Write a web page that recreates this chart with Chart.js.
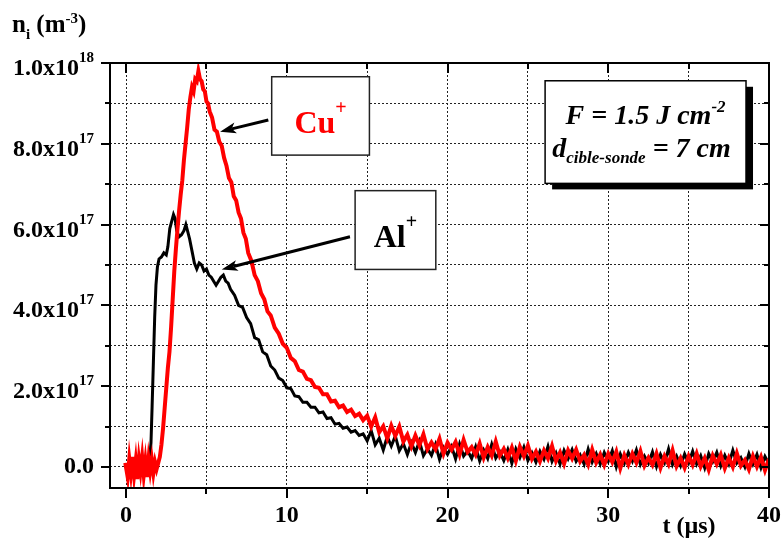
<!DOCTYPE html>
<html>
<head>
<meta charset="utf-8">
<script src="https://cdn.jsdelivr.net/npm/chart.js@4.4.1/dist/chart.umd.min.js"></script>
<style>
    html, body { margin: 0; padding: 0; background: #fff; }
    #wrap { width: 781px; height: 542px; }
</style>
</head>
<body>
<div id="wrap"><canvas id="chart" width="781" height="542"></canvas></div>
<script>
// Ion density n_i (units of 1e17 m^-3) vs time t (µs)
const alTime = [-0.05, 0.25, 0.5, 0.75, 1.0, 1.25, 1.45, 1.55, 1.62, 1.7, 1.78, 1.86, 1.95,
    2.05, 2.2, 2.35, 2.5, 2.6, 2.72, 2.85, 2.95, 3.05, 3.15, 3.3, 3.45, 3.6, 3.72, 3.82, 3.95,
    4.1, 4.25, 4.4, 4.55, 4.7, 4.85, 5.0, 5.15, 5.3, 5.45, 5.6, 5.75, 5.9, 6.05, 6.2, 6.35, 6.5, 6.75,
    7.0, 7.25, 7.5, 7.75, 8.0, 8.25, 8.5, 8.75, 9.0, 9.25, 9.5, 9.75, 10.0, 10.25, 10.5, 10.75,
    11.0, 11.25, 11.5, 11.75, 12.0, 12.25, 12.5, 12.75, 13.0, 13.25, 13.5, 13.75, 14.0, 14.25, 14.5, 14.75,
    15, 15.25, 15.5, 15.75, 16, 16.25, 16.5, 16.75, 17, 17.25, 17.5, 17.75, 18, 18.25, 18.5, 18.75,
    19, 19.25, 19.5, 19.75, 20, 20.25, 20.5, 20.75, 21, 21.25, 21.5, 21.75, 22, 22.25, 22.5, 22.75,
    23, 23.25, 23.5, 23.75, 24, 24.25, 24.5, 24.75, 25, 25.25, 25.5, 25.75, 26, 26.25, 26.5, 26.75,
    27, 27.25, 27.5, 27.75, 28, 28.25, 28.5, 28.75, 29, 29.25, 29.5, 29.75, 30, 30.25, 30.5, 30.75,
    31, 31.25, 31.5, 31.75, 32, 32.25, 32.5, 32.75, 33, 33.25, 33.5, 33.75, 34, 34.25, 34.5, 34.75,
    35, 35.25, 35.5, 35.75, 36, 36.25, 36.5, 36.75, 37, 37.25, 37.5, 37.75, 38, 38.25, 38.5, 38.75,
    39, 39.25, 39.5, 39.75, 40];
const alDensity = [0.02, -0.08, 0.1, -0.05, 0.08, -0.06, 0.1, 0.6, 1.5, 2.6, 3.7, 4.5, 4.95,
    5.15, 5.2, 5.3, 5.25, 5.45, 5.9, 6.1, 6.25, 6.15, 5.85, 5.7, 5.75, 5.85, 6.0, 5.85, 5.65,
    5.35, 5.05, 4.9, 5.05, 5.0, 4.85, 4.9, 4.75, 4.7, 4.6, 4.5, 4.6, 4.7, 4.75, 4.6, 4.55, 4.4, 4.25,
    4.0, 3.95, 3.7, 3.55, 3.2, 3.15, 2.85, 2.78, 2.5, 2.4, 2.2, 2.14, 1.96, 1.94, 1.76, 1.74,
    1.6, 1.6, 1.48, 1.48, 1.34, 1.36, 1.2, 1.22, 1.06, 1.08, 0.96, 0.99, 0.86, 0.9, 0.78, 0.82,
    0.65, 0.90, 0.55, 0.71, 0.42, 0.75, 0.52, 0.77, 0.40, 0.58, 0.31, 0.60, 0.36, 0.64, 0.28, 0.45,
    0.29, 0.56, 0.19, 0.48, 0.31, 0.51, 0.20, 0.57, 0.27, 0.40, 0.21, 0.50, 0.15, 0.42, 0.21, 0.56,
    0.22, 0.38, 0.16, 0.43, 0.09, 0.45, 0.23, 0.49, 0.16, 0.35, 0.12, 0.39, 0.19, 0.51, 0.14, 0.35,
    0.07, 0.41, 0.20, 0.43, 0.14, 0.30, 0.07, 0.44, 0.12, 0.33, 0.07, 0.36, 0.14, 0.40, 0.00, 0.32,
    0.09, 0.36, 0.14, 0.42, 0.06, 0.27, 0.09, 0.37, 0.01, 0.31, 0.11, 0.45, 0.06, 0.27, 0.03, 0.32,
    0.10, 0.39, 0.07, 0.28, -0.02, 0.33, 0.13, 0.36, 0.03, 0.29, 0.07, 0.41, 0.10, 0.23, 0.00, 0.33,
    0.07, 0.31, -0.02, 0.26, 0.08];

const cuTime = [-0.05, 0.1, 0.2, 0.3, 0.4, 0.5, 0.6, 0.7, 0.8, 0.9, 1.0, 1.1, 1.2, 1.3, 1.4, 1.5,
    1.6, 1.7, 1.8, 1.9, 2.0, 2.1, 2.2, 2.3, 2.4, 2.5, 2.6, 2.7, 2.8, 2.9, 3.0, 3.1, 3.2, 3.3, 3.4,
    3.5, 3.6, 3.7, 3.8, 3.9, 4.0, 4.1, 4.2, 4.3, 4.4, 4.5, 4.6, 4.7, 4.8, 4.9, 5.0, 5.1, 5.2,
    5.35, 5.5, 5.65, 5.8, 5.95, 6.1, 6.25, 6.4, 6.55, 6.7, 6.85, 7.0, 7.15, 7.3, 7.45, 7.6,
    7.8, 8.0, 8.2, 8.4, 8.6, 8.8, 9.0, 9.25, 9.5, 9.75, 10.0, 10.25, 10.5, 10.75, 11.0, 11.25,
    11.5, 11.75, 12.0, 12.25, 12.5, 12.75, 13.0, 13.25, 13.5, 13.75, 14.0, 14.25, 14.5, 14.75,
    15, 15.25, 15.5, 15.75, 16, 16.25, 16.5, 16.75, 17, 17.25, 17.5, 17.75, 18, 18.25, 18.5, 18.75,
    19, 19.25, 19.5, 19.75, 20, 20.25, 20.5, 20.75, 21, 21.25, 21.5, 21.75, 22, 22.25, 22.5, 22.75,
    23, 23.25, 23.5, 23.75, 24, 24.25, 24.5, 24.75, 25, 25.25, 25.5, 25.75, 26, 26.25, 26.5, 26.75,
    27, 27.25, 27.5, 27.75, 28, 28.25, 28.5, 28.75, 29, 29.25, 29.5, 29.75, 30, 30.25, 30.5, 30.75,
    31, 31.25, 31.5, 31.75, 32, 32.25, 32.5, 32.75, 33, 33.25, 33.5, 33.75, 34, 34.25, 34.5, 34.75,
    35, 35.25, 35.5, 35.75, 36, 36.25, 36.5, 36.75, 37, 37.25, 37.5, 37.75, 38, 38.25, 38.5, 38.75,
    39, 39.25, 39.5, 39.75, 40];
const cuDensity = [0.1, -0.25, 0.2, -0.15, 0.25, -0.2, 0.15, -0.3, 0.2, -0.1, 0.25, -0.2, 0.15, -0.25,
    0.2, -0.1, 0.18, -0.15, 0.12, -0.05,
    0.1, 0.25, 0.55, 0.95, 1.45, 1.95, 2.45, 2.85, 3.45, 4.15, 4.85, 5.4, 5.9, 6.35, 6.75,
    7.1, 7.6, 8.0, 8.4, 8.85, 9.15, 9.4, 9.3, 9.6, 9.55, 9.8, 9.6, 9.55, 9.35, 9.3, 9.05, 9.0, 8.8,
    8.65, 8.35, 8.3, 8.05, 7.95, 7.65, 7.45, 7.15, 7.05, 6.7, 6.6, 6.3, 6.15, 5.8, 5.65, 5.3,
    5.1, 4.75, 4.6, 4.3, 4.15, 3.85, 3.75, 3.45, 3.3, 3.05, 2.95, 2.7, 2.62, 2.4, 2.36, 2.18,
    2.15, 1.98, 1.96, 1.8, 1.8, 1.62, 1.64, 1.48, 1.52, 1.36, 1.42, 1.26, 1.32, 1.16,
    1.27, 1.00, 1.23, 0.86, 1.01, 0.71, 1.02, 0.77, 1.00, 0.63, 0.80, 0.51, 0.78, 0.54, 0.81, 0.44,
    0.61, 0.44, 0.70, 0.33, 0.60, 0.43, 0.62, 0.31, 0.67, 0.37, 0.49, 0.30, 0.58, 0.23, 0.49, 0.28,
    0.63, 0.28, 0.45, 0.22, 0.48, 0.15, 0.50, 0.27, 0.53, 0.20, 0.38, 0.14, 0.41, 0.21, 0.52, 0.15,
    0.36, 0.08, 0.41, 0.21, 0.43, 0.14, 0.30, 0.06, 0.43, 0.11, 0.31, 0.05, 0.33, 0.12, 0.38, -0.03,
    0.29, 0.06, 0.33, 0.11, 0.39, 0.03, 0.23, 0.05, 0.33, -0.02, 0.27, 0.07, 0.41, 0.02, 0.22, -0.02,
    0.27, 0.05, 0.33, 0.01, 0.22, -0.07, 0.28, 0.07, 0.30, -0.03, 0.23, 0.00, 0.34, 0.03, 0.17, -0.06,
    0.27, 0.01, 0.25, -0.08, 0.20];

// Y tick labels (value in 1e17 units, mantissa, power of ten)
const yLabelValues = [0, 2, 4, 6, 8, 10];
const yLabelMantissa = ['0.0', '2.0x10', '4.0x10', '6.0x10', '8.0x10', '1.0x10'];
const yLabelExponent = ['', '17', '17', '17', '17', '18'];

const serif = '"Liberation Serif", "Times New Roman", serif';

function toPoints(xs, ys) {
    return xs.map((x, i) => ({ x: x, y: ys[i] }));
}

// draw a row of text pieces (for sub/superscripts); returns end x
function drawRuns(ctx, x, y, runs, color) {
    ctx.textAlign = 'left';
    ctx.textBaseline = 'alphabetic';
    runs.forEach(r => {
        ctx.font = (r.italic ? 'italic ' : '') + 'bold ' + r.size + 'px ' + serif;
        ctx.fillStyle = r.color || color;
        ctx.fillText(r.text, x, y + (r.dy || 0));
        x += ctx.measureText(r.text).width;
    });
    return x;
}

function runsWidth(ctx, runs) {
    let w = 0;
    runs.forEach(r => {
        ctx.font = (r.italic ? 'italic ' : '') + 'bold ' + r.size + 'px ' + serif;
        w += ctx.measureText(r.text).width;
    });
    return w;
}

function drawArrow(ctx, x0, y0, x1, y1) {
    const ang = Math.atan2(y1 - y0, x1 - x0);
    const head = 16, half = 5.5;
    const bx = x1 - head * Math.cos(ang), by = y1 - head * Math.sin(ang);
    ctx.strokeStyle = '#000';
    ctx.fillStyle = '#000';
    ctx.lineWidth = 3;
    ctx.beginPath();
    ctx.moveTo(x0, y0);
    ctx.lineTo(bx + 4 * Math.cos(ang), by + 4 * Math.sin(ang));
    ctx.stroke();
    ctx.beginPath();
    ctx.moveTo(x1, y1);
    ctx.lineTo(bx + half * Math.sin(ang), by - half * Math.cos(ang));
    ctx.lineTo(bx + 4 * Math.cos(ang), by + 4 * Math.sin(ang));
    ctx.lineTo(bx - half * Math.sin(ang), by + half * Math.cos(ang));
    ctx.closePath();
    ctx.fill();
}

const decorPlugin = {
    id: 'decor',
    afterDraw(chart) {
        const ctx = chart.ctx;
        const area = chart.chartArea;
        const xs = chart.scales.x, ys = chart.scales.y;
        const px = t => xs.getPixelForValue(t);
        const py = n => ys.getPixelForValue(n);

        ctx.save();

        // Frame and tick marks (outside on left/bottom, inside on right/top)
        ctx.strokeStyle = '#000';
        ctx.lineWidth = 2;
        ctx.strokeRect(area.left, area.top, area.right - area.left, area.bottom - area.top);
        ctx.beginPath();
        ys.ticks.forEach(t => {
            const y = Math.round(py(t.value));
            const len = t.value % 2 === 0 ? 9 : 5;
            ctx.moveTo(area.left - len, y); ctx.lineTo(area.left, y);
            ctx.moveTo(area.right, y); ctx.lineTo(area.right - len, y);
        });
        xs.ticks.forEach(t => {
            const x = Math.round(px(t.value));
            const len = t.value % 10 === 0 ? 10 : 6;
            ctx.moveTo(x, area.bottom); ctx.lineTo(x, area.bottom + len);
            ctx.moveTo(x, area.top); ctx.lineTo(x, area.top + len);
        });
        ctx.stroke();

        // Y tick labels with powers of ten
        ctx.fillStyle = '#000';
        ctx.textBaseline = 'alphabetic';
        ctx.textAlign = 'right';
        yLabelValues.forEach((v, i) => {
            const y = py(v);
            const right = 94;
            if (yLabelExponent[i]) {
                ctx.font = 'bold 15px ' + serif;
                ctx.fillText(yLabelExponent[i], right, y - 1);
                const sw = ctx.measureText(yLabelExponent[i]).width;
                ctx.font = 'bold 24px ' + serif;
                ctx.fillText(yLabelMantissa[i], right - sw, y + 12);
            } else {
                ctx.font = 'bold 24px ' + serif;
                ctx.fillText(yLabelMantissa[i], right, y + 6);
            }
        });

        // Axis titles
        drawRuns(ctx, 12, 32, [
            { text: 'n', size: 25 },
            { text: 'i', size: 15, dy: 7 },
            { text: ' (m', size: 25 },
            { text: '-3', size: 15, dy: -9 },
            { text: ')', size: 25 }
        ], '#000');
        const xTitle = [{ text: 't (\u00b5s)', size: 24 }];
        drawRuns(ctx, 689 - runsWidth(ctx, xTitle) / 2, 533, xTitle, '#000');

        // Cu+ label box
        let x0 = px(9.06), x1 = px(15.14), y0 = py(9.66), y1 = py(7.72);
        drawArrow(ctx, px(8.85), py(8.59), px(5.85), py(8.3));
        ctx.fillStyle = '#fff';
        ctx.fillRect(x0, y0, x1 - x0, y1 - y0);
        ctx.strokeStyle = '#222';
        ctx.lineWidth = 1.5;
        ctx.strokeRect(x0, y0, x1 - x0, y1 - y0);
        let runs = [{ text: 'Cu', size: 32 }, { text: '+', size: 20, dy: -19 }];
        let cx = (x0 + x1) / 2, cy = (y0 + y1) / 2;
        drawRuns(ctx, cx - runsWidth(ctx, runs) / 2, cy + 17, runs, '#ff0000');

        // Al+ label box
        x0 = px(14.25); x1 = px(19.27); y0 = py(6.84); y1 = py(4.89);
        drawArrow(ctx, px(13.93), py(5.70), px(5.95), py(4.89));
        ctx.fillStyle = '#fff';
        ctx.fillRect(x0, y0, x1 - x0, y1 - y0);
        ctx.strokeStyle = '#222';
        ctx.lineWidth = 1.5;
        ctx.strokeRect(x0, y0, x1 - x0, y1 - y0);
        runs = [{ text: 'Al', size: 32 }, { text: '+', size: 20, dy: -19 }];
        cx = (x0 + x1) / 2; cy = (y0 + y1) / 2;
        drawRuns(ctx, cx - runsWidth(ctx, runs) / 2, cy + 17, runs, '#000');

        // Experimental conditions box with drop shadow
        x0 = px(26.07); x1 = px(38.57); y0 = py(9.56); y1 = py(7.02);
        ctx.fillStyle = '#000';
        ctx.fillRect(x0 + 7, y0 + 6, x1 - x0, y1 - y0);
        ctx.fillStyle = '#fff';
        ctx.fillRect(x0, y0, x1 - x0, y1 - y0);
        ctx.strokeStyle = '#000';
        ctx.lineWidth = 1.5;
        ctx.strokeRect(x0, y0, x1 - x0, y1 - y0);
        cx = (x0 + x1) / 2;
        const line1 = [
            { text: 'F = 1.5 J cm', size: 28, italic: true },
            { text: '-2', size: 17, italic: true, dy: -12 }
        ];
        const line2 = [
            { text: 'd', size: 28, italic: true },
            { text: 'cible-sonde', size: 17, italic: true, dy: 6 },
            { text: ' = 7 cm', size: 28, italic: true }
        ];
        drawRuns(ctx, cx - runsWidth(ctx, line1) / 2, y0 + 43, line1, '#000');
        drawRuns(ctx, cx - runsWidth(ctx, line2) / 2 - 4, y0 + 76, line2, '#000');

        ctx.restore();
    }
};

new Chart(document.getElementById('chart'), {
    type: 'scatter',
    data: {
        datasets: [{
            label: 'Cu+',
            data: toPoints(cuTime, cuDensity),
            showLine: true,
            borderColor: '#ff0000',
            borderWidth: 4,
            pointRadius: 0,
            tension: 0
        }, {
            label: 'Al+',
            data: toPoints(alTime, alDensity),
            showLine: true,
            borderColor: '#000000',
            borderWidth: 3,
            pointRadius: 0,
            tension: 0
        }]
    },
    options: {
        responsive: false,
        animation: false,
        devicePixelRatio: 1,
        layout: { padding: { left: 0, top: 63, right: 12, bottom: 0 } },
        plugins: {
            legend: { display: false },
            tooltip: { enabled: false }
        },
        scales: {
            x: {
                type: 'linear',
                min: -1,
                max: 40,
                afterFit: s => { s.height = 54; s.paddingLeft = 0; s.paddingRight = 0; },
                border: { display: false, dash: [2, 2] },
                grid: { color: '#222', lineWidth: 1, drawTicks: false },
                ticks: {
                    stepSize: 5,
                    includeBounds: false,
                    autoSkip: false,
                    maxRotation: 0,
                    padding: 13,
                    color: '#000',
                    font: { family: serif, size: 24, weight: 'bold' },
                    callback: v => (v % 10 === 0 ? v : '')
                }
            },
            y: {
                type: 'linear',
                min: -0.52,
                max: 10,
                afterFit: s => { s.width = 110; s.paddingTop = 0; s.paddingBottom = 0; },
                border: { display: false, dash: [2, 2] },
                grid: { color: '#222', lineWidth: 1, drawTicks: false },
                ticks: {
                    stepSize: 1,
                    includeBounds: false,
                    display: false
                }
            }
        }
    },
    plugins: [decorPlugin]
});
</script>
</body>
</html>
